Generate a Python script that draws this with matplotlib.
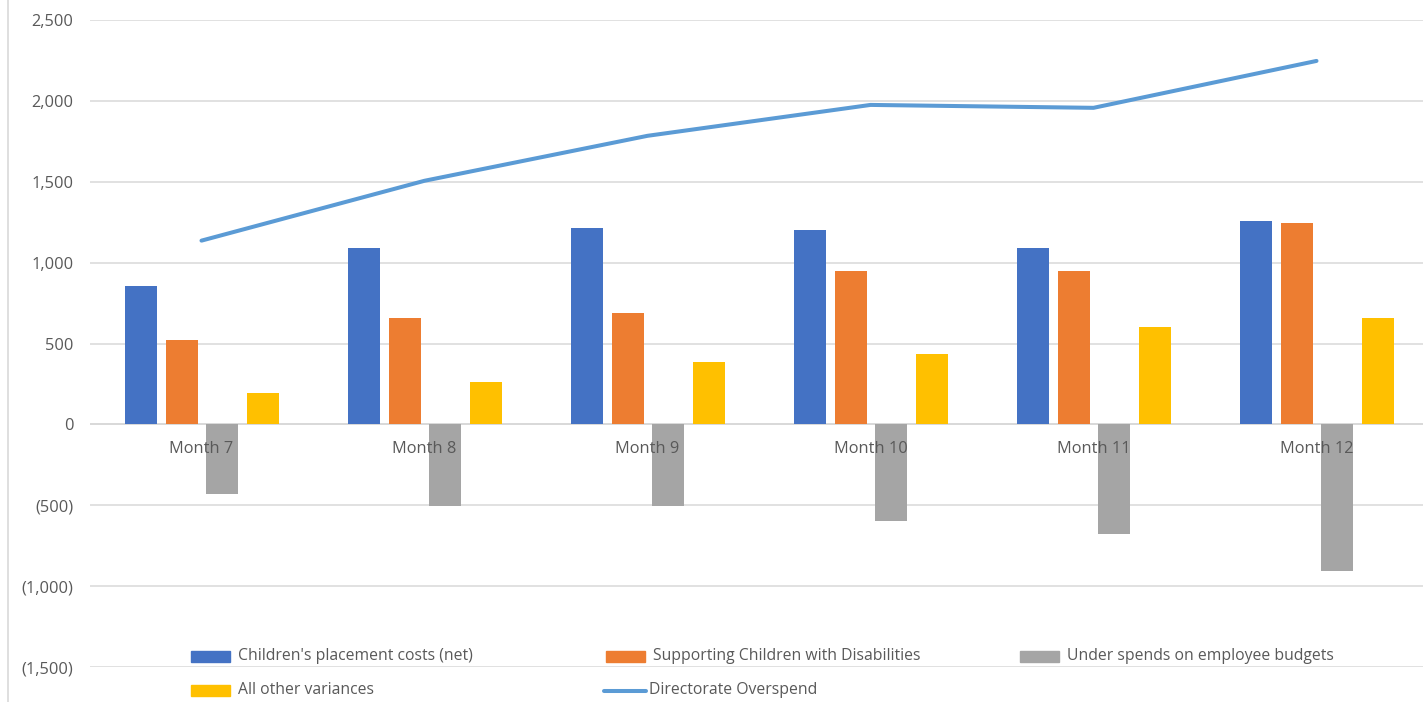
import matplotlib
matplotlib.use("Agg")
import matplotlib.pyplot as plt
from matplotlib.patches import Rectangle
from matplotlib.lines import Line2D
import numpy as np

categories = ["Month 7", "Month 8", "Month 9", "Month 10", "Month 11", "Month 12"]
placement = [855, 1093, 1216, 1204, 1093, 1259]
disabilities = [520, 660, 691, 951, 951, 1247]
employee = [-432, -506, -506, -600, -679, -907]
other = [191, 259, 383, 432, 599, 660]
overspend = [1136, 1506, 1784, 1975, 1957, 2247]

bar_series = [placement, disabilities, employee, other]
bar_labels = ["Children's placement costs (net)", "Supporting Children with Disabilities",
              "Under spends on employee budgets", "All other variances"]
bar_colors = ["#4472C4", "#ED7D31", "#A5A5A5", "#FFC000"]
line_label = "Directorate Overspend"
line_color = "#5B9BD5"
yticks = [-1500, -1000, -500, 0, 500, 1000, 1500, 2000, 2500]

plt.rcParams['font.family'] = ['Open Sans', 'DejaVu Sans']
W, H = 1423, 702
fig = plt.figure(figsize=(W / 100, H / 100), dpi=100)
ax = fig.add_axes([90 / W, 1 - 667 / H, 1338 / W, 647 / H])
ax.set_xlim(-0.5, len(categories) - 0.5)
ax.set_ylim(-1500, 2500)

x = np.arange(len(categories))
step = 0.1815
bw = 0.1435
for i, (vals, col) in enumerate(zip(bar_series, bar_colors)):
    ax.bar(x + (i - 1.5) * step + 0.003, vals, width=bw, color=col, zorder=3)
ax.plot(x, overspend, color=line_color, lw=2.9, zorder=4, solid_capstyle='round')

ax.set_yticks(yticks)
ax.set_yticklabels([f"({abs(v):,})" if v < 0 else f"{v:,}" for v in yticks],
                   color="#595959", fontsize=11.8)
ax.tick_params(axis='y', length=0, pad=12)
ax.set_xticks([])
ax.grid(axis='y', color="#D9D9D9", lw=1.1, zorder=0)
for s in ax.spines.values():
    s.set_visible(False)
ax.axhline(0, color="#D9D9D9", lw=1.3, zorder=2)

for xi, c in zip(x, categories):
    ax.annotate(c, (xi, 0), xytext=(0, -17.5), textcoords='offset points',
                ha='center', va='center', color="#595959", fontsize=11.8, zorder=5)

# left chart border
fig.add_artist(Line2D([8 / W, 8 / W], [0, 1], color="#D9D9D9", lw=1.2, transform=fig.transFigure))

# legend
leg_items = [(bar_labels[0], bar_colors[0], 'patch', 191, 656.5),
             (bar_labels[1], bar_colors[1], 'patch', 606, 656.5),
             (bar_labels[2], bar_colors[2], 'patch', 1020, 656.5),
             (bar_labels[3], bar_colors[3], 'patch', 191, 690.5),
             (line_label, line_color, 'line', 604, 690.5)]
for lab, col, kind, px, py in leg_items:
    if kind == 'patch':
        fig.add_artist(Rectangle((px / W, 1 - (py + 5.5) / H), 39 / W, 11 / H,
                                 color=col, transform=fig.transFigure))
        tx = px + 47
    else:
        fig.add_artist(Line2D([px / W, (px + 42) / W], [1 - py / H] * 2, color=col, lw=2.9,
                              solid_capstyle='round', transform=fig.transFigure))
        tx = px + 45
    fig.text(tx / W, 1 - py / H, lab, ha='left', va='center', color="#595959", fontsize=11.3)

fig.savefig("out.png", dpi=100)
